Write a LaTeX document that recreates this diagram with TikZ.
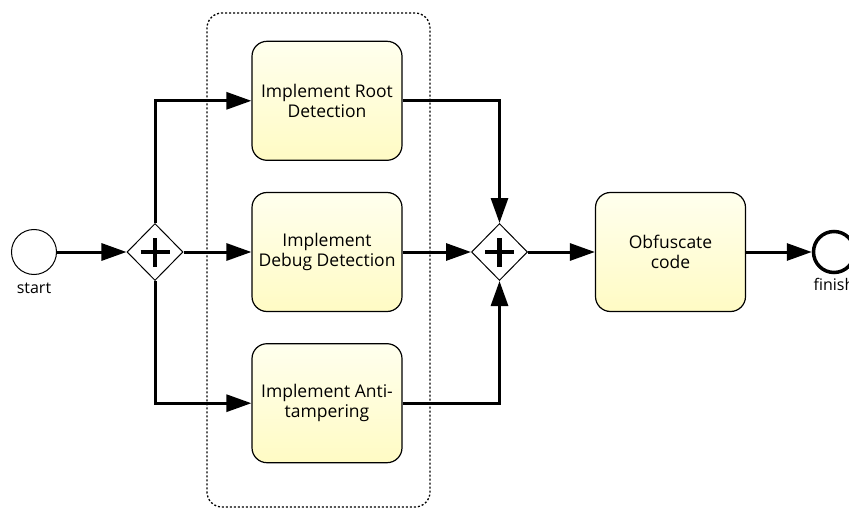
\documentclass[tikz,border=0pt]{standalone}
\usepackage{fontspec}
\setmainfont{Open Sans}
\usetikzlibrary{shapes.geometric, arrows.meta, positioning}
\definecolor{tasktop}{RGB}{255,255,238}
\definecolor{taskbot}{RGB}{255,251,196}
\tikzstyle{task} = [rectangle, rounded corners=15pt, draw=black, line width=1.2pt, top color=tasktop, bottom color=taskbot, minimum width=150pt, minimum height=119pt, text centered, align=center, font=\fontsize{17.5}{19.5}\selectfont, inner sep=4pt]
\tikzstyle{gateway} = [diamond, draw=black, line width=1pt, fill=white, minimum width=56pt, minimum height=57pt, inner sep=0pt,
  path picture={\draw[line width=4.5pt] ([xshift=-14.5pt]path picture bounding box.center) -- ([xshift=14.5pt]path picture bounding box.center);
                \draw[line width=4.5pt] ([yshift=-14.5pt]path picture bounding box.center) -- ([yshift=14.5pt]path picture bounding box.center);}]
\tikzstyle{startevent} = [circle, draw=black, line width=1pt, fill=white, minimum size=45pt, inner sep=0pt]
\tikzstyle{endevent} = [circle, draw=black, line width=3.5pt, fill=white, minimum size=41pt, inner sep=0pt]
\tikzstyle{evlabel} = [font=\fontsize{16}{18}\selectfont, inner sep=1pt]
\tikzstyle{group} = [rectangle, rounded corners=15pt, draw=black, line width=1.3pt, dash pattern=on 2pt off 2pt, minimum width=223pt, minimum height=494pt]
\tikzstyle{flow} = [line width=3pt, -{Triangle[length=25pt, width=17pt]}]

\begin{document}
\begin{tikzpicture}[x=1pt, y=-1pt, node distance=31pt and 31pt]
\useasboundingbox (0,0) rectangle (849,508);

% Group
\node[group] (grp) at (318.5,260) {};

% Nodes (events, gateways, tasks)
\node[startevent] (start) at (34,252) {};
\node[evlabel, below=7pt of start] (startlbl) {start};
\node[gateway] (split) at (155,252) {};
\node[task] (debug) at (327,252) {Implement\\Debug Detection};
\node[task, above=of debug] (root) {Implement Root\\Detection};
\node[task, below=of debug] (anti) {Implement Anti-\\tampering};
\node[gateway] (join) at (499.5,252) {};
\node[task] (obf) at (670.5,252) {Obfuscate\\code};
\node[endevent] (finish) at (834,252) {};
\node[evlabel, below=3pt of finish] (finishlbl) {finish};

% Arrows (sequence flows)
\draw[flow] (start) -- (split);
\draw[flow] (split.north) |- (root.west);
\draw[flow] (split.east) -- (debug.west);
\draw[flow] (split.south) |- (anti.west);
\draw[flow] (root.east) -| (join.north);
\draw[flow] (debug.east) -- (join.west);
\draw[flow] (anti.east) -| (join.south);
\draw[flow] (join) -- (obf);
\draw[flow] (obf) -- (finish);

\end{tikzpicture}
\end{document}
